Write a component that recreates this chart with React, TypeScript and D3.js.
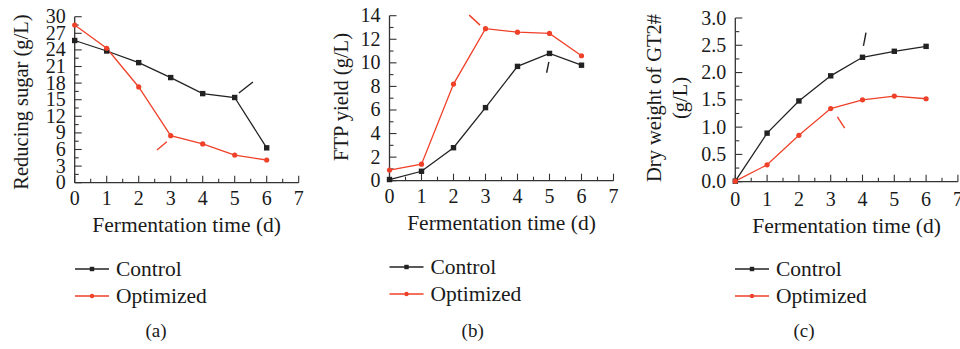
import React from "react";
import * as d3 from "d3";

const days = [0, 1, 2, 3, 4, 5, 6];
const xTicks = [0, 1, 2, 3, 4, 5, 6, 7];

const sugarControl = [25.7, 23.8, 21.7, 19.0, 16.1, 15.4, 6.3];
const sugarOptimized = [28.5, 24.3, 17.3, 8.5, 7.0, 5.0, 4.1];
const ftpControl = [0.1, 0.8, 2.8, 6.2, 9.7, 10.8, 9.8];
const ftpOptimized = [0.9, 1.4, 8.2, 12.9, 12.6, 12.5, 10.6];
const dryControl = [0.01, 0.89, 1.48, 1.94, 2.28, 2.39, 2.48];
const dryOptimized = [0.01, 0.31, 0.85, 1.34, 1.5, 1.57, 1.52];

const sugarTicks = [0, 3, 6, 9, 12, 15, 18, 21, 24, 27, 30];
const ftpTicks = [0, 2, 4, 6, 8, 10, 12, 14];
const dryTicks = [0, 0.5, 1.0, 1.5, 2.0, 2.5, 3.0];

const seriesNames = ["Control", "Optimized"];
const captions = ["(a)", "(b)", "(c)"];

const RED = "#ef4129";
const BLACK = "#222";
const AXIS = "#333";
const FONT = "'Liberation Serif', 'DejaVu Serif', serif";

type Panel = {
  left: number; right: number; top: number; bottom: number;
  yMax: number; yTicks: number[]; yFmt: (v: number) => string; yMinorStep: number;
  yLabel: string[]; yLabelX: number[]; yLabelY: number;
  control: number[]; optimized: number[];
  notes: { c: string; x1: number; y1: number; x2: number; y2: number }[];
  tickBase: number; titleBase: number;
  legX: number; legY1: number; legY2: number; caption: string; capX: number;
};

const panels: Panel[] = [
  {
    left: 74.7, right: 298.7, top: 16.7, bottom: 182.7,
    yMax: 30, yTicks: sugarTicks, yFmt: (v) => String(v), yMinorStep: 1.5,
    yLabel: ["Reducing sugar (g/L)"], yLabelX: [28], yLabelY: 102,
    control: sugarControl, optimized: sugarOptimized,
    notes: [
      { c: BLACK, x1: 5.13, y1: 16.2, x2: 5.57, y2: 18.2 },
      { c: RED, x1: 2.57, y1: 5.9, x2: 2.88, y2: 7.4 },
    ],
    tickBase: 205, titleBase: 232, legX: 75, legY1: 269, legY2: 296,
    caption: captions[0], capX: 156,
  },
  {
    left: 389.5, right: 613.5, top: 15.7, bottom: 180.7,
    yMax: 14, yTicks: ftpTicks, yFmt: (v) => String(v), yMinorStep: 1,
    yLabel: ["FTP yield (g/L)"], yLabelX: [348], yLabelY: 97,
    control: ftpControl, optimized: ftpOptimized,
    notes: [
      { c: RED, x1: 2.49, y1: 14.05, x2: 2.83, y2: 13.2 },
      { c: BLACK, x1: 4.91, y1: 9.16, x2: 4.98, y2: 10.09 },
    ],
    tickBase: 203, titleBase: 230, legX: 389.5, legY1: 267, legY2: 294,
    caption: captions[1], capX: 472.7,
  },
  {
    left: 735.3, right: 957.9, top: 18, bottom: 181.7,
    yMax: 3, yTicks: dryTicks, yFmt: (v) => v.toFixed(1), yMinorStep: 0.25,
    yLabel: ["Dry weight of GT2#", "(g/L)"], yLabelX: [661, 687], yLabelY: 98,
    control: dryControl, optimized: dryOptimized,
    notes: [
      { c: BLACK, x1: 4.03, y1: 2.49, x2: 4.11, y2: 2.73 },
      { c: RED, x1: 3.21, y1: 1.19, x2: 3.44, y2: 0.98 },
    ],
    tickBase: 206, titleBase: 233, legX: 735, legY1: 269, legY2: 296,
    caption: captions[2], capX: 804,
  },
];

function PanelView({ p }: { p: Panel }) {
  const x = d3.scaleLinear().domain([0, 7]).range([p.left, p.right]);
  const y = d3.scaleLinear().domain([0, p.yMax]).range([p.bottom, p.top]);
  const line = d3
    .line<number>()
    .x((_, i) => x(days[i]))
    .y((d) => y(d));
  const xMinor = d3.range(0.5, 7, 1);
  const yMinor = d3.range(0, p.yMax + 1e-9, p.yMinorStep).filter(
    (v) => !p.yTicks.some((t) => Math.abs(t - v) < 1e-6)
  );
  const midX = (p.left + p.right) / 2;
  return (
    <g>
      <line x1={p.left} x2={p.right} y1={p.bottom} y2={p.bottom} stroke={AXIS} strokeWidth={1.3} />
      <line x1={p.left} x2={p.left} y1={p.top} y2={p.bottom} stroke={AXIS} strokeWidth={1.3} />
      {xTicks.map((t) => (
        <g key={"xt" + t}>
          <line x1={x(t)} x2={x(t)} y1={p.bottom} y2={p.bottom - 7} stroke={AXIS} strokeWidth={1.1} />
          <text x={x(t)} y={p.tickBase} textAnchor="middle" fontSize={20} fontFamily={FONT} fill="#1a1a1a">{t}</text>
        </g>
      ))}
      {xMinor.map((t) => (
        <line key={"xm" + t} x1={x(t)} x2={x(t)} y1={p.bottom} y2={p.bottom - 4} stroke={AXIS} strokeWidth={1.1} />
      ))}
      {p.yTicks.map((t) => (
        <g key={"yt" + t}>
          <line x1={p.left} x2={p.left + 7} y1={y(t)} y2={y(t)} stroke={AXIS} strokeWidth={1.1} />
          <text x={p.left - 9} y={y(t) + 6.5} textAnchor="end" fontSize={20} fontFamily={FONT} fill="#1a1a1a">{p.yFmt(t)}</text>
        </g>
      ))}
      {yMinor.map((t) => (
        <line key={"ym" + t} x1={p.left} x2={p.left + 4} y1={y(t)} y2={y(t)} stroke={AXIS} strokeWidth={1.1} />
      ))}
      {p.yLabel.map((s, i) => (
        <text key={s} transform={`translate(${p.yLabelX[i]},${p.yLabelY}) rotate(-90)`} textAnchor="middle" fontSize={20.5} fontFamily={FONT} fill="#1a1a1a">{s}</text>
      ))}
      <text x={midX} y={p.titleBase} textAnchor="middle" fontSize={21.5} fontFamily={FONT} fill="#1a1a1a">Fermentation time (d)</text>
      <path d={line(p.control) || ""} fill="none" stroke={BLACK} strokeWidth={1.3} />
      <path d={line(p.optimized) || ""} fill="none" stroke={RED} strokeWidth={1.3} />
      {p.control.map((v, i) => (
        <rect key={"c" + i} x={x(days[i]) - 2.7} y={y(v) - 2.7} width={5.4} height={5.4} fill={BLACK} />
      ))}
      {p.optimized.map((v, i) => (
        <circle key={"o" + i} cx={x(days[i])} cy={y(v)} r={2.6} fill={RED} />
      ))}
      {p.notes.map((n, i) => (
        <line key={"n" + i} x1={x(n.x1)} y1={y(n.y1)} x2={x(n.x2)} y2={y(n.y2)} stroke={n.c} strokeWidth={1.4} />
      ))}
      {seriesNames.map((s, i) => {
        const ly = i === 0 ? p.legY1 : p.legY2;
        const c = i === 0 ? BLACK : RED;
        const cx = p.legX + 17;
        return (
          <g key={s}>
            <line x1={p.legX} x2={p.legX + 34} y1={ly} y2={ly} stroke={c} strokeWidth={1.3} />
            {i === 0 ? (
              <rect x={cx - 2.2} y={ly - 2.2} width={4.4} height={4.4} fill={c} />
            ) : (
              <circle cx={cx} cy={ly} r={2.2} fill={c} />
            )}
            <text x={p.legX + 41} y={ly + 7} fontSize={21.5} fontFamily={FONT} fill="#1a1a1a">{s}</text>
          </g>
        );
      })}
      <text x={p.capX} y={337} textAnchor="middle" fontSize={19} fontFamily={FONT} fill="#1a1a1a">{p.caption}</text>
    </g>
  );
}

export default function App() {
  return (
    <svg width={960} height={349} style={{ position: "absolute", left: 0, top: 0, background: "#fff" }}>
      <rect width={960} height={349} fill="#fff" />
      {panels.map((p, i) => (
        <PanelView key={i} p={p} />
      ))}
    </svg>
  );
}
